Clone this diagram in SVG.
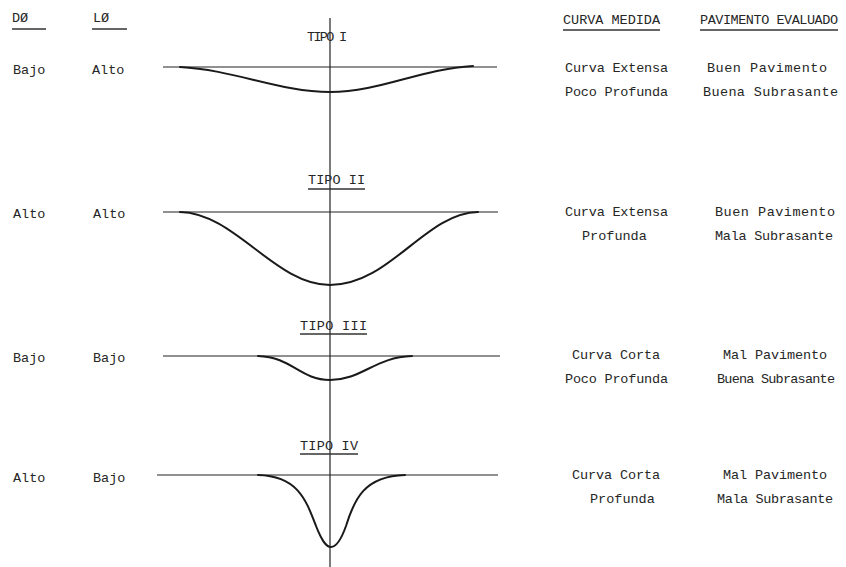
<svg xmlns="http://www.w3.org/2000/svg" width="846" height="567" viewBox="0 0 846 567">
<style>
text{font-family:"Liberation Mono","DejaVu Sans Mono",monospace;font-size:13.5px;fill:#262626}
.ul{stroke:#333;stroke-width:1.3}
.base{stroke:#222;stroke-width:1.2;fill:none}
.curve{stroke:#1a1a1a;stroke-width:2;fill:none;stroke-linecap:round}
</style>
<rect width="846" height="567" fill="#fff"/>
<g id="headers">
<text x="12" y="22">DØ</text><line class="ul" x1="12" y1="29" x2="46" y2="29"/>
<text x="93" y="22">LØ</text><line class="ul" x1="92" y1="29" x2="127" y2="29"/>
<text x="563" y="24" textLength="97">CURVA MEDIDA</text><line class="ul" x1="563" y1="30" x2="660" y2="30"/>
<text x="700" y="24" textLength="138">PAVIMENTO EVALUADO</text><line class="ul" x1="700" y1="30" x2="838" y2="30"/>
</g>
<g id="connectors">
<line class="base" x1="330" y1="18" x2="330" y2="567"/>
</g>
<g id="tipo1">
<text x="307" y="41" textLength="40">TIPO I</text>
<line class="base" x1="163" y1="67" x2="497" y2="67"/>
<path class="curve" d="M180,67 C235,70 280,92 330,92 C380,92 420,69 473,66"/>
<text x="13" y="74">Bajo</text><text x="92" y="74">Alto</text>
<text x="565" y="72" textLength="103">Curva Extensa</text>
<text x="565" y="96" textLength="103">Poco Profunda</text>
<text x="707" y="72" textLength="120">Buen Pavimento</text>
<text x="703" y="96" textLength="135">Buena Subrasante</text>
</g>
<g id="tipo2">
<text x="308" y="184" textLength="57">TIPO II</text><line class="ul" x1="308" y1="189" x2="365" y2="189"/>
<line class="base" x1="163" y1="212" x2="498" y2="212"/>
<path class="curve" d="M180,212 C235,213 275,285 330,285 C390,285 425,213 478,212"/>
<text x="13" y="218">Alto</text><text x="93" y="218">Alto</text>
<text x="565" y="216" textLength="103">Curva Extensa</text>
<text x="582" y="240">Profunda</text>
<text x="715" y="216" textLength="120">Buen  Pavimento</text>
<text x="715" y="240" textLength="118">Mala Subrasante</text>
</g>
<g id="tipo3">
<text x="300" y="330" textLength="67">TIPO III</text><line class="ul" x1="300" y1="334" x2="367" y2="334"/>
<line class="base" x1="163" y1="356" x2="500" y2="356"/>
<path class="curve" d="M258,356 C292,357 300,380 330,380 C362,380 375,357 412,356"/>
<text x="13" y="362">Bajo</text><text x="93" y="362">Bajo</text>
<text x="572" y="359" textLength="88">Curva Corta</text>
<text x="565" y="383" textLength="103">Poco Profunda</text>
<text x="723" y="359" textLength="104">Mal Pavimento</text>
<text x="717" y="383" textLength="118">Buena Subrasante</text>
</g>
<g id="tipo4">
<text x="300" y="450" textLength="58">TIPO IV</text><line class="ul" x1="300" y1="454" x2="358" y2="454"/>
<line class="base" x1="157" y1="475" x2="498" y2="475"/>
<path class="curve" d="M258,475 C298,476 306,500 316,526 C322,541 326,547 331,547 C336,547 341,540 346,526 C354,500 364,476 405,475"/>
<text x="13" y="482">Alto</text><text x="93" y="482">Bajo</text>
<text x="572" y="479" textLength="88">Curva Corta</text>
<text x="590" y="503">Profunda</text>
<text x="723" y="479" textLength="104">Mal Pavimento</text>
<text x="717" y="503" textLength="116">Mala Subrasante</text>
</g>
</svg>
